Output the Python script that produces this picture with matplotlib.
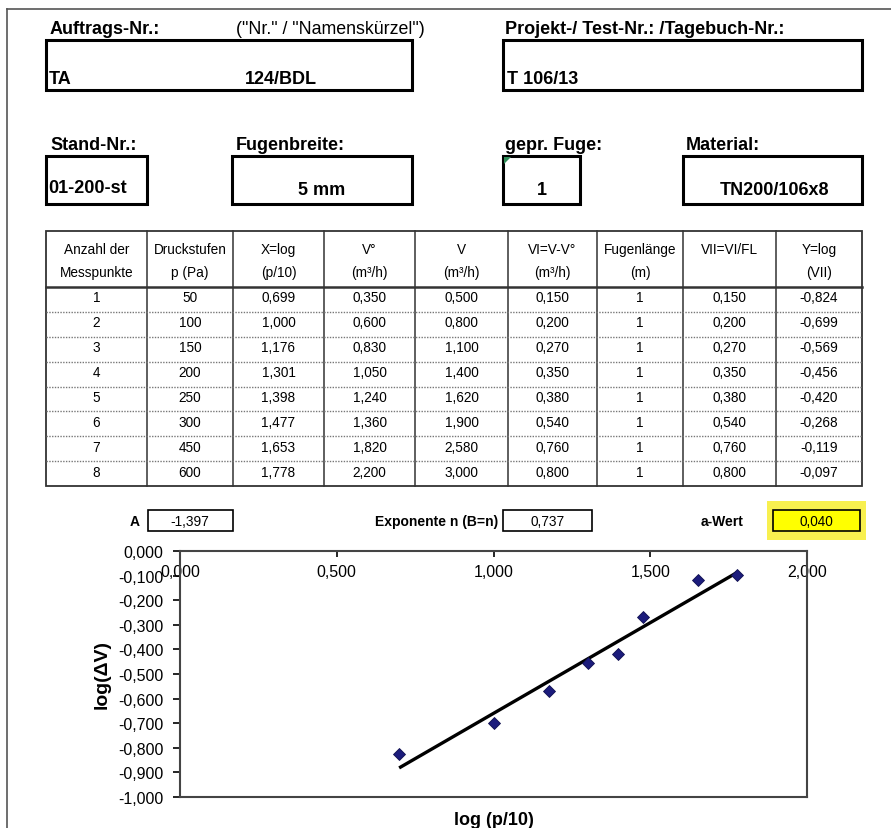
import matplotlib.pyplot as plt
from matplotlib.patches import Rectangle, Polygon
from matplotlib.ticker import MultipleLocator, FuncFormatter

plt.rcParams['font.family'] = ['Liberation Sans', 'DejaVu Sans']

# Kopfdaten
auftrag_kuerzel = "TA"
auftrag_nr = "124/BDL"
projekt_nr = "T 106/13"
stand_nr = "01-200-st"
fugenbreite = "5 mm"
gepr_fuge = "1"
material = "TN200/106x8"

# Messwerte
messpunkte = [1, 2, 3, 4, 5, 6, 7, 8]
druck_pa = [50, 100, 150, 200, 250, 300, 450, 600]
x_log = [0.699, 1.000, 1.176, 1.301, 1.398, 1.477, 1.653, 1.778]
v_null = [0.350, 0.600, 0.830, 1.050, 1.240, 1.360, 1.820, 2.200]
v_ges = [0.500, 0.800, 1.100, 1.400, 1.620, 1.900, 2.580, 3.000]
v_diff = [0.150, 0.200, 0.270, 0.350, 0.380, 0.540, 0.760, 0.800]
fugenlaenge = [1, 1, 1, 1, 1, 1, 1, 1]
v_fl = [0.150, 0.200, 0.270, 0.350, 0.380, 0.540, 0.760, 0.800]
y_log = [-0.824, -0.699, -0.569, -0.456, -0.420, -0.268, -0.119, -0.097]

# Regression
A = -1.397
n_exp = 0.737
a_wert = 0.040

kopf_oben = ["Anzahl der", "Druckstufen", "X=log", "V°", "V", "VI=V-V°",
             "Fugenlänge", "VII=VI/FL", "Y=log"]
kopf_unten = ["Messpunkte", "p (Pa)", "(p/10)", "(m³/h)", "(m³/h)", "(m³/h)",
              "(m)", "", "(VII)"]


def komma(v, d=3):
    if abs(v) < 1e-9:
        v = 0.0
    return f"{v:.{d}f}".replace('.', ',')


fig = plt.figure(figsize=(8.91, 8.29), dpi=100)

# Hintergrund in Pixelkoordinaten fuer das Formular
bg = fig.add_axes([0, 0, 1, 1])
bg.set_xlim(0, 891)
bg.set_ylim(829, 0)
bg.axis('off')

# Seitenrand
bg.plot([7, 891], [10, 10], color='#555555', lw=1.2)
bg.plot([7, 7], [10, 829], color='#555555', lw=1.2)


def box(x0, y0, x1, y1, lw=2.2, fc='none'):
    bg.add_patch(Rectangle((x0, y0), x1 - x0, y1 - y0, fill=(fc != 'none'),
                           facecolor=fc, edgecolor='black', lw=lw))


def txt(x, y, s, ha='left', size=13, bold=True, **kw):
    bg.text(x, y, s, ha=ha, va='center', fontsize=size,
            fontweight='bold' if bold else 'normal', **kw)


# Kopfbereich
txt(50, 29, "Auftrags-Nr.:")
txt(236, 29, '("Nr." / "Namenskürzel")', bold=False, size=12.8)
txt(505, 29, "Projekt-/ Test-Nr.: /Tagebuch-Nr.:")
box(46, 41, 412, 91)
box(503, 41, 862, 91)
txt(49, 79, auftrag_kuerzel)
txt(245, 79, auftrag_nr)
txt(507, 79, projekt_nr)

txt(50, 145, "Stand-Nr.:")
txt(236, 145, "Fugenbreite:")
txt(505, 145, "gepr. Fuge:")
txt(686, 145, "Material:")
box(46, 157, 147, 205)
box(232, 157, 412, 205)
box(503, 157, 580, 205)
box(683, 157, 862, 205)
bg.add_patch(Polygon([[504, 158], [511, 158], [504, 165]], closed=True,
                     color='#2e8b57', lw=0))
txt(48, 188, stand_nr)
txt(322, 190, fugenbreite, ha='center')
txt(542, 190, gepr_fuge, ha='center')
txt(774, 190, material, ha='center')

# Tabelle
cols = [46, 147, 233, 324, 415, 508, 597, 683, 776, 862]
t_top, t_head, t_bot = 232, 288, 487
row_h = (t_bot - t_head) / len(messpunkte)
line_c = '#333333'
bg.add_patch(Rectangle((cols[0], t_top), cols[-1] - cols[0], t_bot - t_top,
                       fill=False, edgecolor=line_c, lw=1.3))
for cx in cols[1:-1]:
    bg.plot([cx, cx], [t_top, t_bot], color=line_c, lw=1.1)
bg.plot([cols[0], cols[-1]], [t_head, t_head], color=line_c, lw=1.8)
for i in range(1, len(messpunkte)):
    yy = t_head + i * row_h
    bg.plot([cols[0], cols[-1]], [yy, yy], color='#777777', lw=1.0,
            ls=(0, (1, 1)))

for j in range(len(kopf_oben)):
    xc = (cols[j] + cols[j + 1]) / 2
    txt(xc, 250, kopf_oben[j], ha='center', size=9.8, bold=False)
    txt(xc, 273, kopf_unten[j], ha='center', size=9.8, bold=False)

spalten = [
    [str(v) for v in messpunkte],
    [str(v) for v in druck_pa],
    [komma(v) for v in x_log],
    [komma(v) for v in v_null],
    [komma(v) for v in v_ges],
    [komma(v) for v in v_diff],
    [str(v) for v in fugenlaenge],
    [komma(v) for v in v_fl],
    [komma(v) for v in y_log],
]
for j, werte in enumerate(spalten):
    xc = (cols[j] + cols[j + 1]) / 2
    for i, s in enumerate(werte):
        yc = t_head + (i + 0.5) * row_h - 2
        txt(xc, yc, s, ha='center', size=9.8, bold=False)

# Regressionsparameter
txt(135, 522, "A", ha='center', size=10)
box(148, 511, 233, 532, lw=1.2)
txt(190, 522, komma(A), ha='center', size=9.8, bold=False)
txt(498, 522, "Exponente n (B=n)", ha='right', size=10)
box(503, 511, 592, 532, lw=1.2)
txt(548, 522, komma(n_exp), ha='center', size=9.8, bold=False)
txt(722, 522, "a-Wert", ha='center', size=10)
bg.add_patch(Rectangle((767, 502), 99, 39, facecolor='#f7ee30', edgecolor='none',
                       alpha=0.85))
box(773, 511, 860, 532, lw=1.2, fc='#ffff00')
txt(816, 522, komma(a_wert), ha='center', size=9.8, bold=False)

# Diagramm
ax = fig.add_axes([180 / 891, 1 - 798 / 829, 627 / 891, 246 / 829])
ax.set_xlim(0, 2)
ax.set_ylim(-1, 0)

x_fit = [min(x_log), max(x_log)]
y_fit = [A + n_exp * x for x in x_fit]
ax.plot(x_fit, y_fit, color='black', lw=2.4, solid_capstyle='butt', zorder=2)
ax.plot(x_log, y_log, 'D', color='#1c1c7c', mec='#10104f', mew=0.6,
        ms=6.3, zorder=3)

fmt = FuncFormatter(lambda v, p: komma(v))
ax.xaxis.set_major_locator(MultipleLocator(0.5))
ax.yaxis.set_major_locator(MultipleLocator(0.1))
ax.xaxis.set_major_formatter(fmt)
ax.yaxis.set_major_formatter(fmt)
ax.tick_params(axis='x', bottom=False, top=True, labelbottom=False,
               labeltop=True, direction='in', length=4, width=1.2, pad=-20,
               labelsize=11.5, colors='black')
ax.tick_params(axis='y', direction='out', length=5, width=1.2, pad=7,
               labelsize=11.5, colors='black')
for sp in ax.spines.values():
    sp.set_color('#444444')
    sp.set_linewidth(1.5)

ax.xaxis.set_label_position('bottom')
ax.set_xlabel("log (p/10)", fontsize=13, fontweight='bold', labelpad=10)
ax.set_ylabel("log(ΔV)", fontsize=14, fontweight='bold', labelpad=5)

fig.savefig('out.png', dpi=100)
